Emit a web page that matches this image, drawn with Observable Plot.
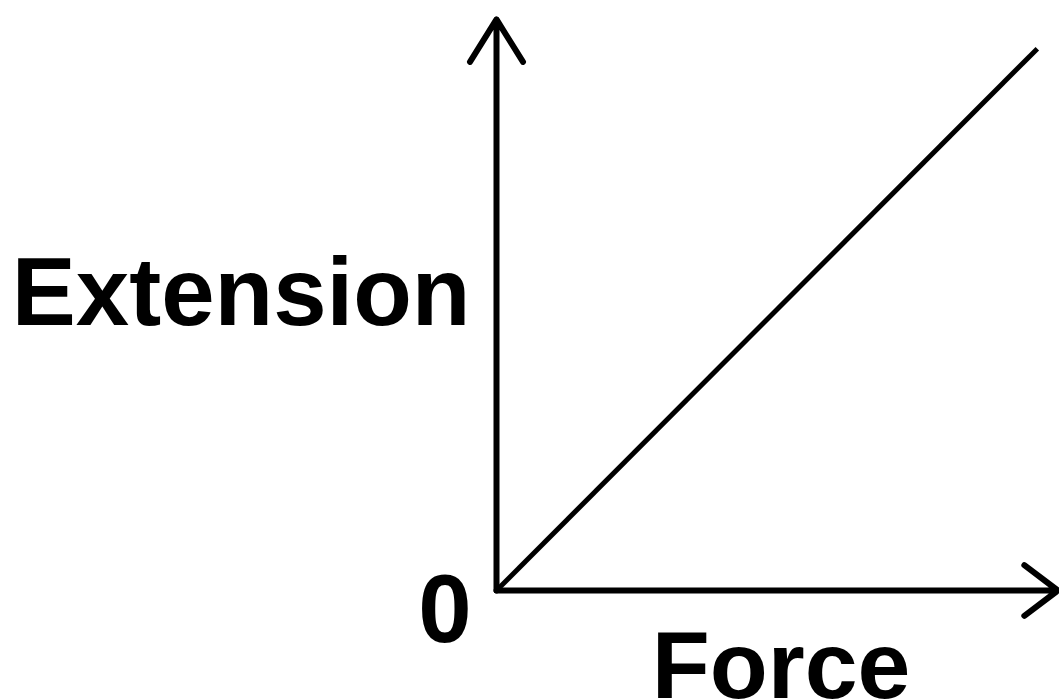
<!DOCTYPE html>
<html>
<head>
<meta charset="utf-8">
<script src="https://cdn.jsdelivr.net/npm/d3@7"></script>
<script src="https://cdn.jsdelivr.net/npm/@observablehq/plot@0.6"></script>
<style>
  html, body { margin: 0; padding: 0; background: #fff; }
  #chart svg { display: block; }
</style>
</head>
<body>
<div id="chart"></div>
<script>
// Data: a straight-line (proportional) relationship between force and extension
const force = [0, 10];
const extension = [0, 10];

// Axis extents (arbitrary units)
const forceDomain = [0, 10.41];
const extensionDomain = [0, 10.89];
const forceAxisEnd = 10.38;
const extensionAxisEnd = 10.54;

// Labels
const xLabel = "Force";
const yLabel = "Extension";
const originLabel = "0";

const lineData = force.map((f, i) => ({force: f, extension: extension[i]}));
const font = "'Liberation Sans', Arial, Helvetica, sans-serif";

const chart = Plot.plot({
  width: 1059,
  height: 700,
  marginLeft: 496,
  marginRight: 0,
  marginTop: 0,
  marginBottom: 110,
  x: {domain: forceDomain, axis: null},
  y: {domain: extensionDomain, axis: null},
  style: {background: "#fff", fontFamily: font},
  marks: [
    Plot.line(lineData, {x: "force", y: "extension", stroke: "#000", strokeWidth: 5, strokeLinecap: "butt"}),
    Plot.arrow([{x1: 0, y1: 0, x2: 0, y2: extensionAxisEnd}], {
      x1: "x1", y1: "y1", x2: "x2", y2: "y2",
      stroke: "#000", strokeWidth: 6, headAngle: 64, headLength: 12.5,
      strokeLinecap: "round", strokeLinejoin: "round"
    }),
    Plot.arrow([{x1: 0, y1: 0, x2: forceAxisEnd, y2: 0}], {
      x1: "x1", y1: "y1", x2: "x2", y2: "y2",
      stroke: "#000", strokeWidth: 6, headAngle: 74, headLength: 10.5,
      strokeLinecap: "round", strokeLinejoin: "round"
    }),
    Plot.text([yLabel], {
      x: 0, y: 5, text: d => d, textAnchor: "end", lineAnchor: "bottom",
      dx: -26, dy: 5, fontSize: 96, fontWeight: "bold", fill: "#000"
    }),
    Plot.text([originLabel], {
      x: 0, y: 0, text: d => d, textAnchor: "middle", lineAnchor: "bottom",
      dx: -51.5, dy: 51, fontSize: 96, fontWeight: "bold", fill: "#000"
    }),
    Plot.text([xLabel], {
      x: 5.26, y: 0, text: d => d, textAnchor: "middle", lineAnchor: "bottom",
      dy: 107, fontSize: 95, fontWeight: "bold", fill: "#000"
    })
  ]
});
document.getElementById("chart").appendChild(chart);
</script>
</body>
</html>
